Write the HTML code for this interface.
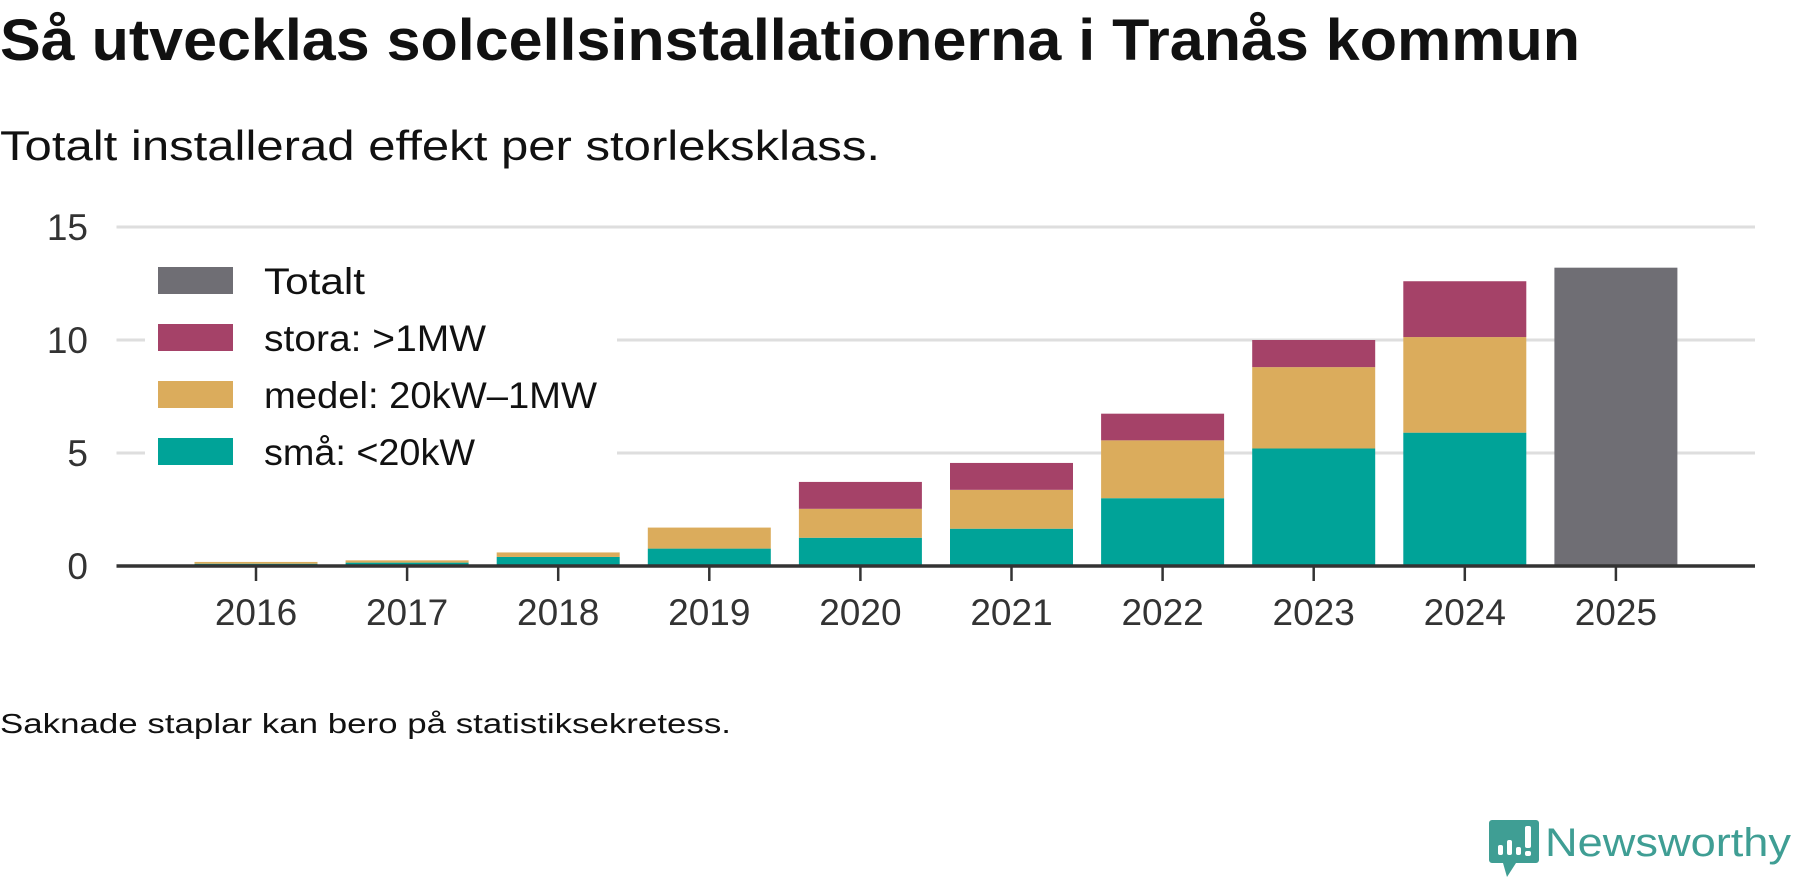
<!DOCTYPE html>
<html><head><meta charset="utf-8"><style>
html,body{margin:0;padding:0;background:#fff;width:1800px;height:879px;overflow:hidden}
svg{display:block;font-family:"Liberation Sans",sans-serif}
</style></head><body>
<svg id="chart" width="1800" height="879" viewBox="0 0 1800 879">
<text x="0" y="60" font-size="58" font-weight="bold" fill="#111" textLength="1580" lengthAdjust="spacingAndGlyphs">Så utvecklas solcellsinstallationerna i Tranås kommun</text>
<text x="0" y="160" font-size="42" fill="#111" textLength="880" lengthAdjust="spacingAndGlyphs">Totalt installerad effekt per storleksklass.</text>
<g id="grid"></g>
<g id="bars"></g>
<g id="axis"></g>
<g id="legend"></g>
<text x="0" y="733" font-size="28" fill="#111" textLength="731" lengthAdjust="spacingAndGlyphs">Saknade staplar kan bero på statistiksekretess.</text>
<g>
<path d="M1492 820 h44 a3 3 0 0 1 3 3 v37 a3 3 0 0 1 -3 3 h-20 l-9 14 l-4 -14 h-11 a3 3 0 0 1 -3 -3 v-37 a3 3 0 0 1 3 -3z" fill="#3f9e94"/>
<rect x="1498" y="845" width="5" height="10" rx="2" fill="#fff"/>
<rect x="1507" y="840" width="5" height="15" rx="2" fill="#fff"/>
<rect x="1516" y="847" width="5" height="8" rx="2" fill="#fff"/>
<rect x="1525" y="826" width="6" height="22" rx="2" fill="#fff"/>
<rect x="1525" y="851" width="6" height="5" rx="2" fill="#fff"/>
<text x="1545" y="856" font-size="40" fill="#3f9e94" textLength="246" lengthAdjust="spacingAndGlyphs">Newsworthy</text>
</g>
</svg>
<script>
const years=["2016","2017","2018","2019","2020","2021","2022","2023","2024","2025"];
const sma=[0.1,0.15,0.4,0.77,1.25,1.65,3.0,5.2,5.9,null];
const medel=[0.08,0.1,0.2,0.93,1.28,1.72,2.56,3.6,4.23,null];
const stora=[0,0,0,0,1.19,1.19,1.18,1.2,2.47,null];
const totalt=[null,null,null,null,null,null,null,null,null,13.2];
const yTicks=[0,5,10,15];
const legendLabels=["Totalt","stora: >1MW","medel: 20kW–1MW","små: <20kW"];
const NS="http://www.w3.org/2000/svg";
const X0=116.5,X1=1755,Y0=566,PX=22.6,STEP=151.1,FIRST=256,BW=123;
const x=i=>FIRST+i*STEP;
const y=v=>Y0-v*PX;
function mk(tag,attrs,parent,txt){const e=document.createElementNS(NS,tag);for(const k in attrs)e.setAttribute(k,attrs[k]);if(txt!=null)e.textContent=txt;parent.appendChild(e);return e;}
const grid=document.getElementById('grid'),bars=document.getElementById('bars'),axis=document.getElementById('axis'),legend=document.getElementById('legend');
yTicks.forEach(t=>{
  if(t>0){const l=mk('line',{x1:X0,x2:X1,y1:y(t),y2:y(t),stroke:'#dedede','stroke-width':3},grid);
  
  }
  const tx=mk('text',{x:88,y:y(t)+13,'font-size':37,fill:'#333','text-anchor':'end'},axis,String(t));
  
  
});
const series=[["sma",sma,"#00a398"],["medel",medel,"#dbac5c"],["stora",stora,"#a54268"]];
years.forEach((yr,i)=>{
  let acc=0;
  series.forEach(([nm,arr,c])=>{
    const v=arr[i];if(v==null||v<=0)return;
    const r=mk('rect',{x:x(i)-BW/2,y:y(acc+v),width:BW,height:v*PX,fill:c},bars);
    
    
    acc+=v;
  });
  if(totalt[i]!=null){
    const r=mk('rect',{x:x(i)-BW/2,y:y(totalt[i]),width:BW,height:totalt[i]*PX,fill:'#6f6e74'},bars);
    
    
  }
  const tk=mk('line',{x1:x(i),x2:x(i),y1:Y0,y2:Y0+15,stroke:'#333','stroke-width':2.5},axis);
  
  
  const tl=mk('text',{x:x(i),y:625,'font-size':37,fill:'#333','text-anchor':'middle'},axis,yr);
  
  
});
const ax=mk('line',{x1:X0,x2:X1,y1:Y0,y2:Y0,stroke:'#333','stroke-width':3.5},axis);


mk('rect',{x:145,y:255,width:472,height:222,fill:'#fff'},legend);
const legColors=["#6f6e74","#a54268","#dbac5c","#00a398"];
const legWidths=[101,222,333,211];
legendLabels.forEach((lab,k)=>{
  const yy=267+k*57;
  const s=mk('rect',{x:158,y:yy,width:75,height:27,fill:legColors[k]},legend);
  
  
  const t=mk('text',{x:264,y:yy+27,'font-size':37,fill:'#111',textLength:legWidths[k],lengthAdjust:'spacingAndGlyphs'},legend,lab);
  
  
});
</script>
</body></html>
